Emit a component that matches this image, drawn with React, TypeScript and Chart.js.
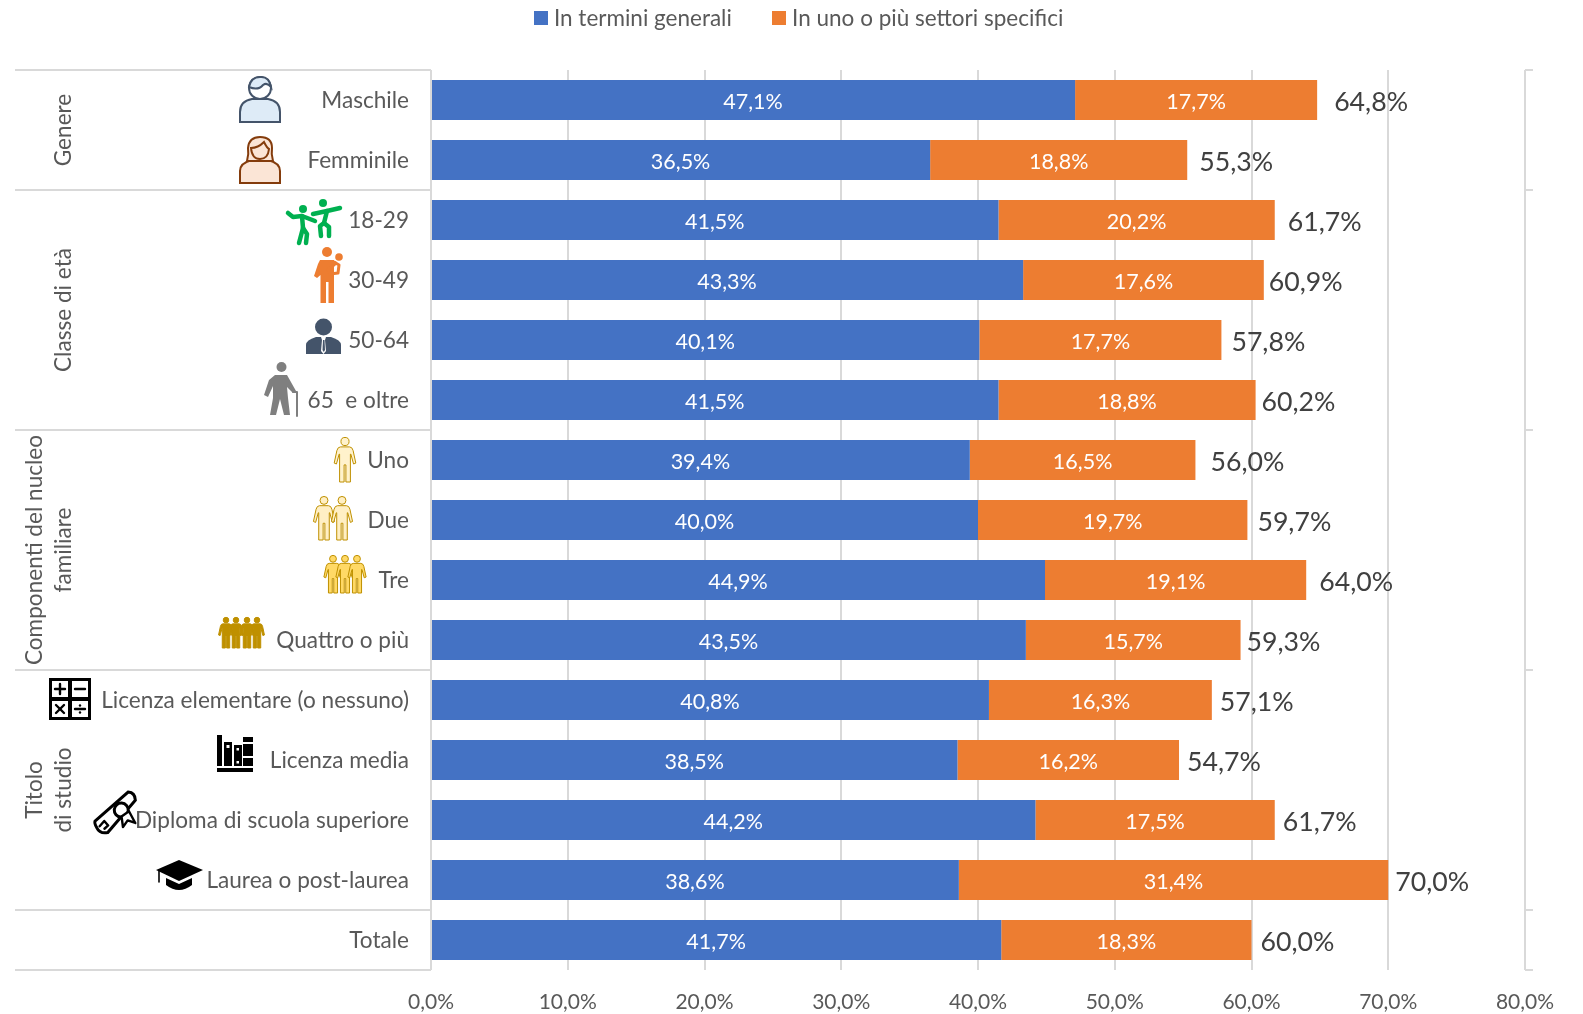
import React, { useEffect, useRef } from "react";
import { Chart, registerables } from "chart.js";

Chart.register(...registerables);

const categories = [
  "Maschile", "Femminile", "18-29", "30-49", "50-64", "65  e oltre", "Uno", "Due", "Tre",
  "Quattro o più", "Licenza elementare (o nessuno)", "Licenza media",
  "Diploma di scuola superiore", "Laurea o post-laurea", "Totale",
];
const generalValues = [47.1, 36.5, 41.5, 43.3, 40.1, 41.5, 39.4, 40.0, 44.9, 43.5, 40.8, 38.5, 44.2, 38.6, 41.7];
const sectorValues = [17.7, 18.8, 20.2, 17.6, 17.7, 18.8, 16.5, 19.7, 19.1, 15.7, 16.3, 16.2, 17.5, 31.4, 18.3];
const totalValues = [64.8, 55.3, 61.7, 60.9, 57.8, 60.2, 56.0, 59.7, 64.0, 59.3, 57.1, 54.7, 61.7, 70.0, 60.0];
const totalLabelGaps = [17, 12, 13, 5, 10, 6, 15, 10, 13, 6, 8, 8, 8, 7, 9];
const seriesNames = ["In termini generali", "In uno o più settori specifici"];

// Row groups: first and last row of each band on the category axis.
const groups = [
  { lines: ["Genere"], first: 0, last: 1 },
  { lines: ["Classe di età"], first: 2, last: 5 },
  { lines: ["Componenti del nucleo", "familiare"], first: 6, last: 9 },
  { lines: ["Titolo", "di studio"], first: 10, last: 13 },
  { lines: [], first: 14, last: 14 },
];

const FONT = "Lato, 'Open Sans', sans-serif";
const GREY = "#595959";
const RULE = "#D9D9D9";
const BLUE = "#4472C4";
const ORANGE = "#ED7D31";

const pct = (v: number) => v.toFixed(1).replace(".", ",") + "%";

type Ctx = CanvasRenderingContext2D;

function path(ctx: Ctx, d: string, fill?: string, stroke?: string, lw = 1) {
  const p = new Path2D(d);
  if (fill) { ctx.fillStyle = fill; ctx.fill(p); }
  if (stroke) { ctx.strokeStyle = stroke; ctx.lineWidth = lw; ctx.stroke(p); }
}

function disc(ctx: Ctx, x: number, y: number, r: number, fill?: string, stroke?: string, lw = 1) {
  ctx.beginPath();
  ctx.arc(x, y, r, 0, Math.PI * 2);
  if (fill) { ctx.fillStyle = fill; ctx.fill(); }
  if (stroke) { ctx.strokeStyle = stroke; ctx.lineWidth = lw; ctx.stroke(); }
}

function limbs(ctx: Ctx, color: string, lw: number, segs: number[][]) {
  ctx.strokeStyle = color;
  ctx.lineWidth = lw;
  ctx.lineCap = "round";
  ctx.lineJoin = "round";
  for (const s of segs) {
    ctx.beginPath();
    ctx.moveTo(s[0], s[1]);
    for (let i = 2; i < s.length; i += 2) ctx.lineTo(s[i], s[i + 1]);
    ctx.stroke();
  }
}

// Square legend swatch; a narrow nominal box width keeps the text close to it.
function swatch(color: string) {
  const c = document.createElement("canvas");
  c.width = 14;
  c.height = 14;
  const g = c.getContext("2d")!;
  g.fillStyle = color;
  g.fillRect(0, 0, 14, 14);
  return c;
}

// Pictogram of a standing figure, 100 units tall, centred on x = 0.
const FIGURE =
  "M-10 22 L10 22 Q16 22 18 30 L24 58 L19 60 L13 38 L12 38 L12 100 L2 100 L2 62 L-2 62 L-2 100 L-12 100 L-12 38 L-13 38 L-19 60 L-24 58 L-18 30 Q-16 22 -10 22 Z";

function figure(ctx: Ctx, x: number, top: number, h: number, fill: string, stroke: string) {
  const k = h / 100;
  ctx.save();
  ctx.translate(x, top);
  ctx.scale(k, k);
  path(ctx, FIGURE, fill, stroke, 1 / k);
  disc(ctx, 0, 10, 9, fill, stroke, 1 / k);
  ctx.restore();
}

// Each pictogram is drawn around the vertical centre of its row.
const icons: Record<number, (c: Ctx) => void> = {
  0: (c) => {
    c.translate(260, 0);
    path(c, "M-20 22 L-20 12 Q-20 1 -8 -1 L8 -1 Q20 1 20 12 L20 22 Z", "#DEEBF7", "#44546A", 2);
    disc(c, 0, -12, 11, "#FFFFFF", "#44546A", 2);
    path(c, "M-11 -13 Q-2 -9 3 -15 Q7 -18 11 -13 Q9 -24 0 -23 Q-9 -23 -11 -13 Z", "#DEEBF7", "#44546A", 2);
  },
  1: (c) => {
    c.translate(260, 0);
    path(c, "M-20 23 L-20 11 Q-20 3 -8 0 L8 0 Q20 3 20 11 L20 23 Z", "#FBE5D6", "#843C0C", 2);
    path(c, "M-13 1 Q-11 -6 -12 -12 Q-11 -23 0 -23 Q12 -23 12 -12 Q11 -6 13 1 L7 1 L-7 1 Z", "#FBE5D6", "#843C0C", 2);
    path(c, "M-9 -12 Q-2 -12 4 -18 Q7 -12 9 -11 Q8 -1 0 -1 Q-8 -1 -9 -12 Z", "#FBE5D6", "#843C0C", 2);
  },
  2: (c) => {
    const g = "#00B050";
    disc(c, 303, -11, 4, g);
    disc(c, 323, -17, 4, g);
    limbs(c, g, 4.5, [
      [288, -7, 293, -3, 302, -4, 315, 1],
      [302, -4, 303, 8, 299, 23],
      [303, 8, 307, 14, 306, 23],
      [313, -6, 327, -9, 340, -12],
      [327, -9, 324, 3, 320, 6, 321, 16],
      [324, 3, 329, 7, 329, 16],
    ]);
  },
  3: (c) => {
    const o = ORANGE;
    disc(c, 327, -28, 5, o);
    disc(c, 339, -23, 3.8, o);
    path(c, "M320 -20 L334 -20 L334 23 L328.5 23 L328.5 2 L326 2 L326 23 L320.5 23 L320.5 -5 L317 -2 L314 -4 L318 -16 Z", o);
    limbs(c, o, 3, [[334, -18, 339, -15, 338, -7, 330, -6, 328, -10, 336, -17]]);
  },
  4: (c) => {
    const n = "#44546A";
    disc(c, 323.5, -13, 8.5, n);
    path(c, "M306 14 L306 5 Q306 0 316 -3 L331 -3 Q341 0 341 5 L341 14 Z", n);
    path(c, "M321 -3 L326 -3 L325 0 L326 11 L323.5 14 L321 11 L322 0 Z", "#FFFFFF");
    path(c, "M323 0 L324.5 0 L325 10 L323.8 12 L322.5 10 Z", n);
  },
  5: (c) => {
    const g = "#7F7F7F";
    disc(c, 281.5, -33, 5, g);
    path(c, "M275 -25 L287 -25 L296 -9 L293 -7 L287 -13 L288 -2 L290 15 L284 15 L280 -1 L276 15 L270 15 L273 -2 L273 -14 L268 -3 L264 -5 L269 -20 Z", g);
    limbs(c, g, 2, [[293, -8, 297, -8, 297, 16]]);
  },
  6: (c) => figure(c, 345, -23, 45, "#FFF2CC", "#BF9000"),
  7: (c) => {
    figure(c, 324, -24, 44, "#FFEFC4", "#BF9000");
    figure(c, 342, -24, 44, "#FFEFC4", "#BF9000");
  },
  8: (c) => {
    figure(c, 333, -25, 38, "#FFD966", "#BF9000");
    figure(c, 345, -25, 38, "#FFD966", "#BF9000");
    figure(c, 357, -25, 38, "#FFD966", "#BF9000");
  },
  9: (c) => {
    for (const x of [226, 236, 247, 257]) figure(c, x, -23, 31, "#BF9000", "#BF9000");
  },
  10: (c) => {
    c.fillStyle = "#000000";
    c.fillRect(49, -22, 42, 42);
    c.fillStyle = "#FFFFFF";
    c.fillRect(52, -19, 16, 16);
    c.fillRect(72, -19, 16, 16);
    c.fillRect(52, 1, 16, 16);
    c.fillRect(72, 1, 16, 16);
    limbs(c, "#000000", 2.4, [
      [55, -11, 65, -11], [60, -16, 60, -6],
      [75, -11, 85, -11],
      [56, 5, 64, 13], [64, 5, 56, 13],
      [75, 9, 85, 9],
    ]);
    disc(c, 80, 5.5, 1.2, "#000000");
    disc(c, 80, 12.5, 1.2, "#000000");
  },
  11: (c) => {
    c.fillStyle = "#000000";
    c.fillRect(217, 8, 36, 4);
    c.fillRect(217, -25, 5, 31);
    c.fillRect(224, -18, 8, 24);
    c.fillRect(234, -15, 8, 21);
    c.fillRect(243, -23, 10, 29);
    c.fillStyle = "#FFFFFF";
    c.fillRect(226.5, -15, 3, 3);
    c.fillRect(236.5, -12, 2.5, 2.5);
    c.fillRect(236.5, 1, 2.5, 2.5);
    c.fillRect(243, -18, 10, 2);
    c.fillRect(243, -4, 10, 2);
  },
  12: (c) => {
    c.translate(119, -8);
    c.rotate(-0.72);
    path(c, "M-24 -9 L20 -9 Q25 -4 20 2 L-22 8 Q-29 4 -27 -3 Q-26 -8 -24 -9 Z", "#FFFFFF", "#000000", 3);
    limbs(c, "#000000", 2.4, [[-24, -2, -17, -3, -17, 3, -22, 3]]);
    disc(c, 3, 0, 7, "#FFFFFF", "#000000", 3);
    path(c, "M-1 5 L-7 14 L1 12 L5 19 L8 6 Z", "#FFFFFF", "#000000", 2.4);
  },
  13: (c) => {
    path(c, "M156 -10 L179 -20 L203 -10 L179 1 Z", "#000000");
    path(c, "M166 -2 L179 4 L192 -2 L192 5 Q179 15 166 5 Z", "#000000");
    limbs(c, "#000000", 1.6, [[159, -9, 159, 2]]);
  },
};

const overlay = {
  id: "rowDecorations",
  beforeLayout(chart: any) {
    // The legend keeps the band above the plot for itself and sits near the page top.
    const legend = chart.legend;
    if (!legend || legend.__fixed) return;
    legend.__fixed = true;
    const fit = legend.fit;
    legend.fit = function () {
      fit.call(this);
      this.height = 70;
    };
    const draw = legend.draw;
    legend.draw = function (...args: any[]) {
      const ctx = this.ctx;
      ctx.save();
      ctx.translate(39, -39);
      draw.apply(this, args);
      ctx.restore();
    };
  },
  beforeDatasetsDraw(chart: any) {
    const { ctx, scales, chartArea } = chart;
    const y = scales.y;
    ctx.save();
    ctx.strokeStyle = RULE;
    ctx.lineWidth = 2;
    const edges = [groups[0].first - 0.5, ...groups.map((g) => g.last + 0.5)];
    for (const e of edges) {
      const py = y.getPixelForValue(e);
      ctx.beginPath();
      ctx.moveTo(15, py);
      ctx.lineTo(chartArea.left, py);
      ctx.moveTo(chartArea.right, py);
      ctx.lineTo(chartArea.right + 8, py);
      ctx.stroke();
    }
    ctx.restore();
  },
  afterDatasetsDraw(chart: any) {
    const { ctx, scales } = chart;
    const x = scales.x;
    const y = scales.y;
    ctx.save();
    ctx.textBaseline = "middle";

    // Segment values, centred in their bars.
    ctx.textAlign = "center";
    ctx.fillStyle = "#FFFFFF";
    ctx.font = `21.5px ${FONT}`;
    categories.forEach((_, i) => {
      const py = y.getPixelForValue(i) + 2;
      ctx.fillText(pct(generalValues[i]), x.getPixelForValue(generalValues[i] / 2), py);
      ctx.fillText(pct(sectorValues[i]), x.getPixelForValue(generalValues[i] + sectorValues[i] / 2), py);
    });

    // Totals, just past the end of each bar.
    ctx.textAlign = "left";
    ctx.fillStyle = "#404040";
    ctx.font = `26.7px ${FONT}`;
    categories.forEach((_, i) => {
      const end = x.getPixelForValue(generalValues[i] + sectorValues[i]);
      ctx.fillText(pct(totalValues[i]), end + totalLabelGaps[i], y.getPixelForValue(i) + 2.5);
    });

    // Rotated group titles.
    ctx.textAlign = "center";
    ctx.fillStyle = GREY;
    ctx.font = `22.6px ${FONT}`;
    for (const g of groups) {
      const cy = (y.getPixelForValue(g.first - 0.5) + y.getPixelForValue(g.last + 0.5)) / 2;
      const columns = g.lines.length === 2 ? [34.5, 63.5] : [63.5];
      g.lines.forEach((line, k) => {
        ctx.save();
        ctx.translate(columns[k], cy);
        ctx.rotate(-Math.PI / 2);
        ctx.fillText(line, 0, 0);
        ctx.restore();
      });
    }
    ctx.restore();

    for (const key of Object.keys(icons)) {
      const row = Number(key);
      ctx.save();
      ctx.translate(0, y.getPixelForValue(row));
      icons[row](ctx);
      ctx.restore();
    }
  },
};

export default function App() {
  const ref = useRef<HTMLCanvasElement>(null);

  useEffect(() => {
    const chart = new Chart(ref.current!, {
      type: "bar",
      data: {
        labels: categories,
        datasets: [
          { label: seriesNames[0], data: generalValues, backgroundColor: BLUE },
          { label: seriesNames[1], data: sectorValues, backgroundColor: ORANGE },
        ],
      },
      options: {
        indexAxis: "y",
        responsive: false,
        animation: false,
        devicePixelRatio: 1,
        categoryPercentage: 2 / 3,
        barPercentage: 1,
        layout: { padding: { right: 58 } },
        scales: {
          x: {
            stacked: true,
            min: 0,
            max: 80,
            afterFit: (s: any) => { s.height = 44; },
            grid: { color: RULE, lineWidth: 2, drawTicks: false },
            border: { display: false },
            ticks: {
              stepSize: 10,
              padding: 20,
              maxRotation: 0,
              color: GREY,
              font: { family: FONT, size: 21 },
              callback: (v: any) => pct(Number(v)),
            },
          },
          y: {
            stacked: true,
            afterFit: (s: any) => { s.width = 431; },
            grid: { display: false },
            border: { display: false },
            ticks: {
              autoSkip: false,
              padding: 14,
              labelOffset: 1,
              color: GREY,
              font: { family: FONT, size: 22.6 },
            },
          },
        },
        plugins: {
          tooltip: { enabled: false },
          legend: {
            position: "top",
            labels: {
              usePointStyle: true,
              boxWidth: 3,
              boxHeight: 14,
              padding: 46,
              color: GREY,
              font: { family: FONT, size: 22.5 },
              generateLabels: (c: any) =>
                c.data.datasets.map((d: any, i: number) => ({
                  text: d.label,
                  fillStyle: d.backgroundColor,
                  strokeStyle: d.backgroundColor,
                  pointStyle: swatch(d.backgroundColor),
                  lineWidth: 0,
                  hidden: false,
                  datasetIndex: i,
                  fontColor: GREY,
                })),
            },
          },
        },
      },
      plugins: [overlay],
    } as any);
    return () => chart.destroy();
  }, []);

  return (
    <canvas
      ref={ref}
      width={1583}
      height={1014}
      style={{ position: "absolute", left: 0, top: 0, display: "block", background: "#FFFFFF" }}
    />
  );
}
